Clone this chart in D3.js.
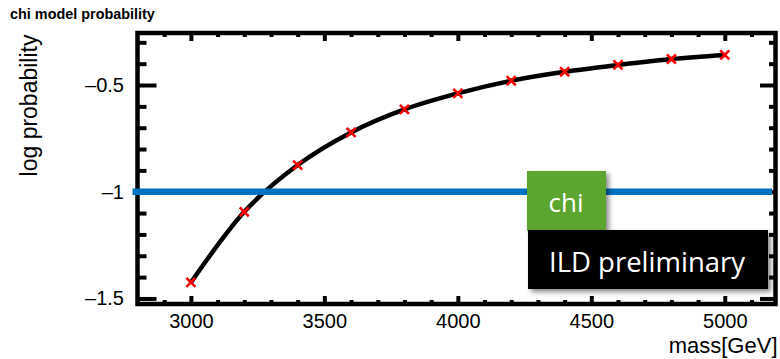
<!DOCTYPE html>
<html>
<head>
<meta charset="utf-8">
<script src="https://cdn.jsdelivr.net/npm/d3@7"></script>
<style>
  html, body { margin: 0; padding: 0; background: #fff; }
  svg { display: block; }
</style>
</head>
<body>
<svg id="chart" width="780" height="359"></svg>
<script>
// ---- data ----
const masses = [3000, 3200, 3400, 3600, 3800, 4000, 4200, 4400, 4600, 4800, 5000];
const logProb = [-1.425, -1.094, -0.875, -0.722, -0.614, -0.539, -0.480, -0.438, -0.406, -0.378, -0.359];
const xTicks = [3000, 3500, 4000, 4500, 5000];
const xTickLabels = ["3000", "3500", "4000", "4500", "5000"];
const xMinorTicks = [2900, 3100, 3200, 3300, 3400, 3600, 3700, 3800, 3900, 4100, 4200, 4300, 4400, 4600, 4700, 4800, 4900, 5100];
const yTicks = [-1.5, -1, -0.5];
const yTickLabels = ["\u20131.5", "\u20131", "\u20130.5"];
const yMinorTicks = [-1.4, -1.3, -1.2, -1.1, -0.9, -0.8, -0.7, -0.6, -0.4, -0.3];
const thresholdValue = -1;
const legendLabels = ["chi", "ILD preliminary"];
const titleText = "chi model probability";
const xTitle = "mass[GeV]";
const yTitle = "log probability";

// ---- layout ----
const L = 137.5, R = 775.5, T = 33, B = 304;
const svg = d3.select("#chart");
const FONT = "'Liberation Sans', Arial, Helvetica, sans-serif";

const x = d3.scaleLinear().domain([2800, 5190]).range([L, R]);
const y = d3.scaleLinear().domain([-1.526, -0.2563]).range([B, T]);

// fit a text element's font size to a target width
function fitWidth(sel, target, base) {
  const node = sel.node();
  const w = node.getComputedTextLength();
  if (w > 0) sel.attr("font-size", base * target / w);
}

// drop shadow filter
const defs = svg.append("defs");
const f = defs.append("filter").attr("id", "shadow").attr("x", "-10%").attr("y", "-10%").attr("width", "130%").attr("height", "140%");
f.append("feDropShadow").attr("dx", 3).attr("dy", 3).attr("stdDeviation", 2.5).attr("flood-color", "#000").attr("flood-opacity", 0.45);

// title
const title = svg.append("text").attr("x", 10).attr("y", 19)
  .attr("font-family", FONT).attr("font-weight", "bold").attr("font-size", 14)
  .text(titleText);
fitWidth(title, 145, 14);

// axes helper
function styleAxis(g, fontSize) {
  g.select(".domain").remove();
  g.selectAll(".tick line").attr("stroke", "#000").attr("stroke-width", 4);
  g.selectAll(".tick text").attr("font-family", FONT).attr("font-size", fontSize).attr("fill", "#000");
}

// left axis major
svg.append("g").attr("transform", `translate(${L},0)`)
  .call(d3.axisLeft(y).tickValues(yTicks).tickSizeInner(-19).tickSizeOuter(0).tickPadding(13.5)
    .tickFormat((d, i) => yTickLabels[i]))
  .call(g => styleAxis(g, 20));
// left axis minor
svg.append("g").attr("transform", `translate(${L},0)`)
  .call(d3.axisLeft(y).tickValues(yMinorTicks).tickSizeInner(-9).tickSizeOuter(0).tickFormat(""))
  .call(g => styleAxis(g, 20));
// right axis
svg.append("g").attr("transform", `translate(${R},0)`)
  .call(d3.axisRight(y).tickValues(yTicks).tickSizeInner(-15.5).tickSizeOuter(0).tickFormat(""))
  .call(g => styleAxis(g, 20));
svg.append("g").attr("transform", `translate(${R},0)`)
  .call(d3.axisRight(y).tickValues(yMinorTicks).tickSizeInner(-6.5).tickSizeOuter(0).tickFormat(""))
  .call(g => styleAxis(g, 20));
// bottom axis
svg.append("g").attr("transform", `translate(0,${B})`)
  .call(d3.axisBottom(x).tickValues(xTicks).tickSizeInner(-8).tickSizeOuter(0).tickPadding(10)
    .tickFormat((d, i) => xTickLabels[i]))
  .call(g => styleAxis(g, 20));
svg.append("g").attr("transform", `translate(0,${B})`)
  .call(d3.axisBottom(x).tickValues(xMinorTicks).tickSizeInner(-4).tickSizeOuter(0).tickFormat(""))
  .call(g => styleAxis(g, 20));
// top axis
svg.append("g").attr("transform", `translate(0,${T})`)
  .call(d3.axisTop(x).tickValues(xTicks).tickSizeInner(-8).tickSizeOuter(0).tickFormat(""))
  .call(g => styleAxis(g, 20));
svg.append("g").attr("transform", `translate(0,${T})`)
  .call(d3.axisTop(x).tickValues(xMinorTicks).tickSizeInner(-4).tickSizeOuter(0).tickFormat(""))
  .call(g => styleAxis(g, 20));

// frame
svg.append("rect").attr("x", L).attr("y", T).attr("width", R - L).attr("height", B - T)
  .attr("fill", "none").attr("stroke", "#000").attr("stroke-width", 4.5);

// axis titles
svg.append("text").attr("x", R + 2).attr("y", 352.5)
  .attr("text-anchor", "end").attr("font-family", FONT).attr("font-size", 22)
  .text(xTitle);
svg.append("text")
  .attr("transform", `translate(36.5,${(33 + 178) / 2}) rotate(-90)`)
  .attr("text-anchor", "middle").attr("font-family", FONT).attr("font-size", 23)
  .text(yTitle);

// curve
const pts = masses.map((m, i) => [m, logProb[i]]);
svg.append("path").datum(pts)
  .attr("fill", "none").attr("stroke", "#000").attr("stroke-width", 4.5)
  .attr("stroke-linejoin", "round")
  .attr("d", d3.line().x(d => x(d[0])).y(d => y(d[1])).curve(d3.curveMonotoneX));

// markers
const s = 4.5;
svg.append("g").selectAll("path.mk").data(pts).join("path")
  .attr("class", "mk")
  .attr("d", d => {
    const cx = x(d[0]), cy = y(d[1]);
    return `M${cx - s},${cy - s}L${cx + s},${cy + s}M${cx - s},${cy + s}L${cx + s},${cy - s}`;
  })
  .attr("stroke", "#ff0000").attr("stroke-width", 2.6).attr("fill", "none");

// threshold line
svg.append("line")
  .attr("x1", L - 5).attr("x2", R - 3.5)
  .attr("y1", y(thresholdValue)).attr("y2", y(thresholdValue))
  .attr("stroke", "#0070c0").attr("stroke-width", 6.5);

// legend boxes
svg.append("rect").attr("x", 527).attr("y", 171).attr("width", 79).attr("height", 60)
  .attr("fill", "#5ba52f").attr("filter", "url(#shadow)");
svg.append("text").attr("x", 566).attr("y", 212)
  .attr("text-anchor", "middle").attr("font-family", "'Open Sans', sans-serif").attr("font-size", 26)
  .attr("fill", "#fff").text(legendLabels[0]);

svg.append("rect").attr("x", 528).attr("y", 230).attr("width", 240).attr("height", 59)
  .attr("fill", "#000").attr("filter", "url(#shadow)");
svg.append("text").attr("x", 647).attr("y", 271.5)
  .attr("text-anchor", "middle").attr("font-family", "'Open Sans', sans-serif").attr("font-size", 27.5)
  .attr("fill", "#fff").text(legendLabels[1]);
</script>
</body>
</html>
